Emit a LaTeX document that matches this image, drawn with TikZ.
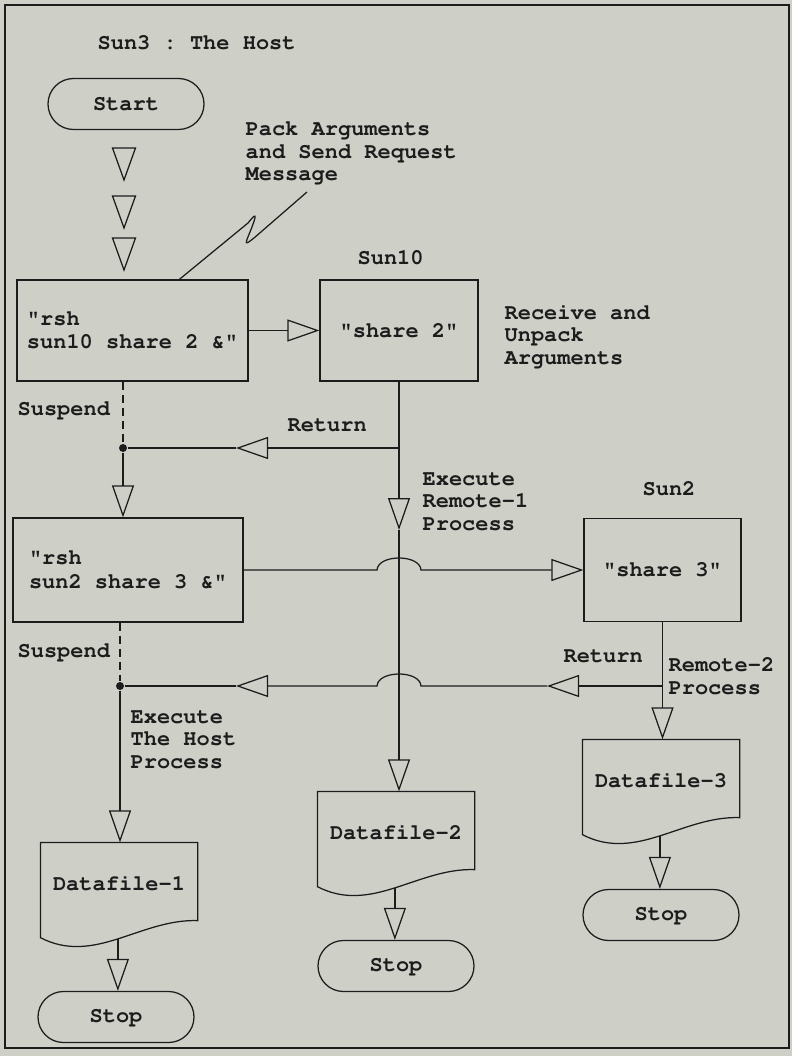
\documentclass[tikz,border=0pt]{standalone}
\usepackage[T1]{fontenc}
\usepackage{courier}
\renewcommand\familydefault{\ttdefault}
\usetikzlibrary{arrows.meta,shapes.misc,calc}
\definecolor{bgc}{RGB}{206,208,200}
\definecolor{ink}{RGB}{28,28,28}
\newcommand\docshape[1]{%
  \draw (#1.north west) -- (#1.north east) -- ([yshift=3pt]#1.south east)
    .. controls ([xshift=-57pt,yshift=5pt]#1.south east) and ([xshift=54pt,yshift=-42pt]#1.south west) ..
    ([yshift=-14pt]#1.south west) coordinate[pos=0.5] (#1-b) -- cycle;}
\frenchspacing
\begin{document}
\begin{tikzpicture}[x=1pt,y=-1pt,
  font=\ttfamily\bfseries\fontsize{22pt}{22.5pt}\selectfont, color=ink, line width=1.25pt,
  every node/.style={inner sep=0pt, text=ink},
  box/.style={draw, rectangle, align=left, font=\ttfamily\bfseries\fontsize{22pt}{23.5pt}\selectfont},
  term/.style={draw, rounded rectangle, minimum width=156pt, minimum height=51pt},
  doc/.style={rectangle, minimum width=156pt, minimum height=80pt},
  lbl/.style={anchor=base west, align=left},
  tipend/.style={-{Triangle[open,length=32pt,width=22pt]}},
  dot/.style={circle, fill=ink, minimum size=8pt},
  susp/.style={dash pattern=on 8pt off 5pt},
]
\fill[bgc] (0,0) rectangle (792,1056);
\useasboundingbox (0,0) rectangle (792,1056);
\draw[line width=1.3pt] (5,5) rectangle (789,1048);

% host column
\node[lbl] (title) at (97,50) {Sun3 : The Host};
\node[term] (start) at (126,104) {Start};
\foreach \t in {148,196,238}{
  \draw (112.5,\t) -- (135.5,\t) -- (124,\t+32) -- cycle;}
% multi-line labels: anchor is the baseline of the last line
\node[lbl] (pack) at (245,181) {Pack Arguments\\and Send Request\\Message};
\node[box, minimum width=231pt, minimum height=101pt] (b1) at (132.5,330.5) {"rsh\\sun10 share 2 \&"};
\node[lbl] (susp1) at (17,415) {Suspend};
\node[dot] (d1) at (123,448) {};
\node[box, minimum width=230pt, minimum height=104pt] (b3) at (128,570) {"rsh\\sun2 share 3 \&"};
\node[lbl] (susp2) at (17,657) {Suspend};
\node[dot] (d2) at (120,686) {};
\node[lbl] (ex0) at (130,768) {Execute\\The Host\\Process};
\node[doc] (df1) at (119,883) {Datafile-1};
\node[term] (stop1) at (116,1017) {Stop};

% sun10 column
\node[lbl] (sun10) at (357,265) {Sun10};
\node[box, minimum width=158pt, minimum height=101pt] (b2) at (399,330.5) {"share 2"};
\node[lbl] (recv) at (504,364) {Receive and\\Unpack\\Arguments};
\node[lbl] (ret1) at (287,431) {Return};
\node[lbl] (ex1) at (422,530) {Execute\\Remote-1\\Process};
\node[doc] (df2) at (396,832) {Datafile-2};
\node[term] (stop2) at (396,966) {Stop};

% sun2 column
\node[lbl] (sun2) at (642,495) {Sun2};
\node[box, minimum width=157pt, minimum height=103pt] (b4) at (662.5,570) {"share 3"};
\node[lbl] (ret2) at (563,662) {Return};
\node[lbl] (rem2) at (668,694) {Remote-2\\Process};
\node[doc] (df3) at (661,780) {Datafile-3};
\node[term] (stop3) at (661,915) {Stop};

\docshape{df1}
\docshape{df2}
\docshape{df3}

% callout squiggle
\coordinate (zz) at ($(b1.north west)+(163,0)$);
\coordinate (pk) at (307,192);
\draw (zz) -- (248,223) .. controls (256,213) and (258,212) .. (250,232)
  .. controls (245,244) and (244,246) .. (254,238) -- (pk);

% connectors
\draw[tipend] (b1.east) -- (b2.west);
\draw[susp] (b1.south -| d1) -- (d1);
\coordinate (r1) at (236,448);
\draw[tipend] (b2.south |- d1) -- (r1);
\draw (r1) -- (d1);
\draw[tipend] (d1) -- (d1 |- b3.north);
\coordinate (m2) at (399,530);
\draw[tipend] (b2.south) -- (m2);
\draw[tipend] (m2) -- (m2 |- df2.north);
\draw[tipend] (b3.east) -- (377,570) .. controls (378,554) and (420,554) .. (421,570) -- (b4.west);
\draw[susp] (b3.south -| d2) -- (d2);
\coordinate (r2a) at (547,686);
\coordinate (r2b) at (236,686);
\draw[tipend] (b4.south |- d2) -- (r2a);
\draw[tipend] (r2a) -- (421,686) .. controls (420,670) and (378,670) .. (377,686) -- (r2b);
\draw (r2b) -- (d2);
\draw[tipend] (d2) -- (d2 |- df1.north);
\draw[tipend] (b4.south) -- (b4.south |- df3.north);
\draw[tipend] (df1-b) -- (df1-b |- stop1.north);
\draw[tipend] (df2-b) -- (df2-b |- stop2.north);
\draw[tipend] (df3-b) -- (df3-b |- stop3.north);
\end{tikzpicture}
\end{document}
